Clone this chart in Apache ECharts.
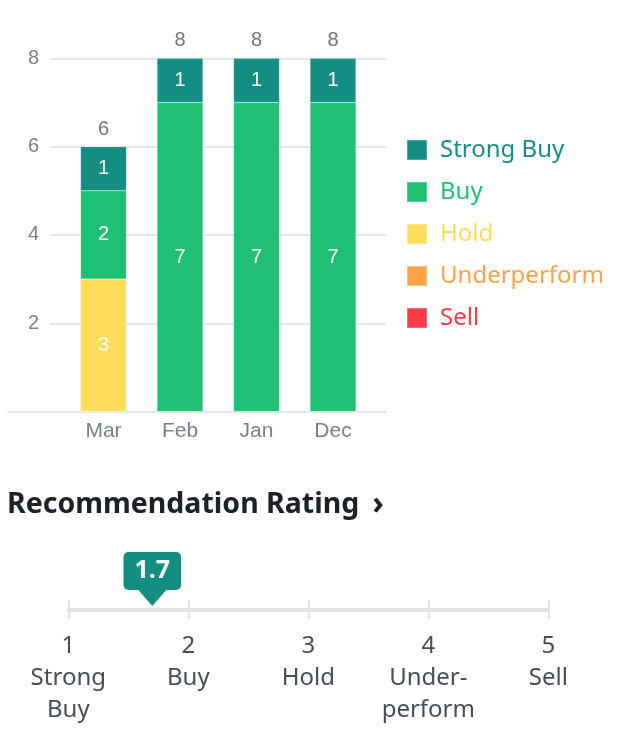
<!DOCTYPE html>
<html>
<head>
<meta charset="utf-8">
<script src="https://cdn.jsdelivr.net/npm/echarts@6/dist/echarts.min.js"></script>
<style>
html,body{margin:0;padding:0;background:#fff;}
#chart{width:632px;height:756px;}
</style>
</head>
<body>
<div id="chart"></div>
<script>
// ---- data ----
const categories = ['Mar', 'Feb', 'Jan', 'Dec'];
const strongBuy = [1, 1, 1, 1];
const buy = [2, 7, 7, 7];
const hold = [3, 0, 0, 0];
const underperform = [0, 0, 0, 0];
const sell = [0, 0, 0, 0];
const seriesNames = ['Strong Buy', 'Buy', 'Hold', 'Underperform', 'Sell'];
const seriesColors = ['#148e83', '#1fc074', '#ffdc5a', '#ffa346', '#ff3b48'];
const yMin = 0, yMax = 8, yStep = 2;
const ratingValue = 1.7;
const ratingTicks = [1, 2, 3, 4, 5];
const ratingNames = ['Strong\nBuy', 'Buy', 'Hold', 'Under-\nperform', 'Sell'];

const totals = categories.map((c, i) => strongBuy[i] + buy[i] + hold[i] + underperform[i] + sell[i]);

const chart = echarts.init(document.getElementById('chart'), null, {renderer: 'canvas'});

const axisFont = 'Liberation Sans, Arial, sans-serif';
const uiFont = 'Noto Sans, Open Sans, sans-serif';

function segLabel() {
  return {
    show: true, position: 'inside', color: '#ffffff', fontSize: 20, fontFamily: axisFont,
    formatter: p => (p.value ? String(p.value) : '')
  };
}
const stackOrder = [
  ['Sell', sell, 4], ['Underperform', underperform, 3], ['Hold', hold, 2], ['Buy', buy, 1], ['Strong Buy', strongBuy, 0]
];
const barSeries = stackOrder.map(([name, arr, ci]) => ({
  name: name, type: 'bar', stack: 'rec', xAxisIndex: 1, yAxisIndex: 1,
  barWidth: 46, data: arr,
  itemStyle: {color: seriesColors[ci], borderColor: 'rgba(255,255,255,0.25)', borderWidth: 0.6},
  label: segLabel(),
  emphasis: {disabled: true}
}));

const option = {
  animation: false,
  backgroundColor: '#ffffff',
  title: {
    text: '{a|Recommendation Rating}{b|›}',
    left: 7, top: 489, padding: 0,
    textStyle: {
      rich: {
        a: {fontSize: 28.5, fontWeight: 'bold', color: '#1d2228', fontFamily: uiFont},
        b: {fontSize: 32, fontWeight: 'bold', color: '#1d2228', fontFamily: uiFont, padding: [0, 0, 0, 13]}
      }
    }
  },
  legend: {
    orient: 'vertical', left: 406, top: 138, padding: 0,
    icon: 'rect', itemWidth: 20, itemHeight: 20, itemGap: 18,
    selectedMode: false,
    textStyle: {fontSize: 24, fontFamily: uiFont, padding: [0, 0, 0, 8]},
    data: seriesNames.map((n, i) => ({name: n, textStyle: {color: seriesColors[i]}}))
  },
  grid: [
    {left: 50, width: 336, top: 58.3, height: 353.3},
    {left: 65.25, width: 306, top: 58.3, height: 353.3},
    {left: 8, width: 378, top: 58.3, height: 353.3},
    {left: 68.3, width: 480, top: 600, height: 19}
  ],
  xAxis: [
    {gridIndex: 0, type: 'value', min: 0, max: 1, show: false},
    {gridIndex: 1, type: 'category', data: categories,
      axisLine: {show: false}, axisTick: {show: false},
      axisLabel: {fontSize: 21, fontFamily: axisFont, color: '#7b8189', margin: 9}},
    {gridIndex: 2, type: 'value', min: 0, max: 1,
      axisLine: {show: true, onZero: false, lineStyle: {color: '#e3e6ea', width: 2}},
      axisTick: {show: false}, axisLabel: {show: false}, splitLine: {show: false}},
    {gridIndex: 3, type: 'value', min: ratingTicks[0], max: ratingTicks[ratingTicks.length - 1], interval: 1,
      axisLine: {show: true, onZero: true, lineStyle: {color: '#e0e3e8', width: 4}},
      axisTick: {show: false},
      splitLine: {show: true, lineStyle: {color: '#e0e3e8', width: 2}},
      axisLabel: {
        margin: 11, fontSize: 24, lineHeight: 32, color: '#464e56', fontFamily: uiFont, align: 'center',
        formatter: v => v + '\n' + ratingNames[ratingTicks.indexOf(v)]
      }}
  ],
  yAxis: [
    {gridIndex: 0, type: 'value', min: yMin, max: yMax, interval: yStep,
      axisLine: {show: false}, axisTick: {show: false},
      splitLine: {show: true, lineStyle: {color: '#e6e8ec', width: 2}},
      axisLabel: {fontSize: 20, fontFamily: axisFont, color: '#7b8189', margin: 11,
        formatter: v => (v === 0 ? '' : String(v))}},
    {gridIndex: 1, type: 'value', min: yMin, max: yMax, show: false},
    {gridIndex: 2, type: 'value', min: yMin, max: yMax, show: false},
    {gridIndex: 3, type: 'value', min: -1, max: 1, show: false}
  ],
  series: [
    ...barSeries,
    {
      name: 'totals', type: 'scatter', xAxisIndex: 1, yAxisIndex: 1,
      data: totals, symbolSize: 1, itemStyle: {color: 'rgba(0,0,0,0)', opacity: 1},
      label: {show: true, position: 'top', distance: 7, color: '#6f767e', fontSize: 20, fontFamily: axisFont},
      emphasis: {disabled: true}, z: 5
    },
    {
      name: 'pointer', type: 'scatter', xAxisIndex: 3, yAxisIndex: 3,
      data: [[ratingValue, 0]], symbol: 'triangle', symbolRotate: 180,
      symbolSize: [28, 16], symbolOffset: [0, -11.5],
      itemStyle: {color: '#148e83', opacity: 1}, emphasis: {disabled: true}, z: 6
    },
    {
      name: 'ratingLabel', type: 'scatter', xAxisIndex: 3, yAxisIndex: 3,
      data: [[ratingValue, 0]], symbolSize: 1, itemStyle: {color: 'rgba(0,0,0,0)', opacity: 1},
      label: {
        show: true, position: 'top', distance: 19,
        formatter: () => String(ratingValue),
        color: '#ffffff', fontWeight: 'bold', fontSize: 25, fontFamily: uiFont,
        backgroundColor: '#148e83', borderRadius: 5, padding: [7, 11, 7, 11], lineHeight: 24
      },
      emphasis: {disabled: true}, z: 7
    }
  ]
};
chart.setOption(option);
</script>
</body>
</html>
